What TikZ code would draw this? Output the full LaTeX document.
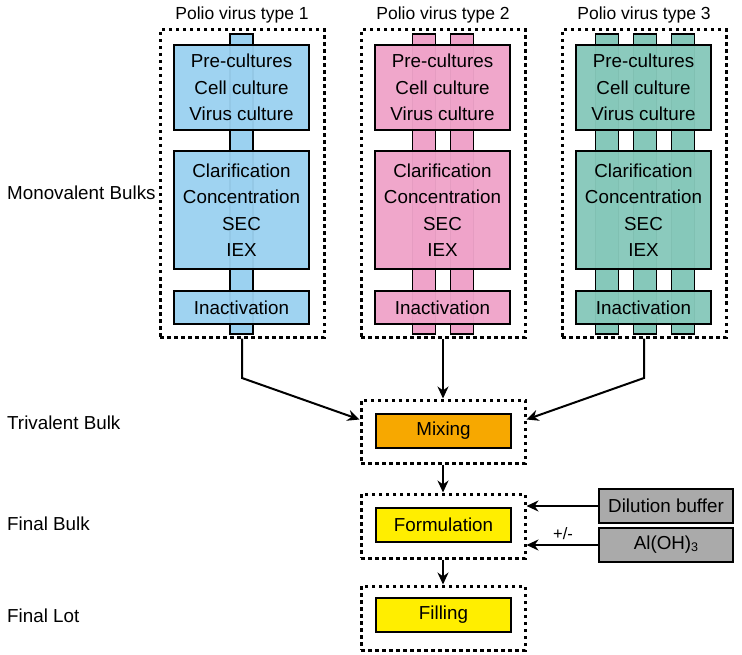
\documentclass[tikz,border=0pt]{standalone}
\usepackage{fontspec}
\setmainfont{Liberation Sans}
\usetikzlibrary{arrows.meta,calc}
\definecolor{cblue}{RGB}{155,209,240}
\definecolor{cpink}{RGB}{239,163,201}
\definecolor{cteal}{RGB}{134,200,186}
\definecolor{corange}{RGB}{247,168,0}
\definecolor{cyellow}{RGB}{255,238,0}
\definecolor{cgray}{RGB}{170,170,170}
\tikzset{
  dotbox/.style={draw, line width=3pt, dash pattern=on 3.5pt off 3.5pt, minimum width=164pt, inner sep=0pt},
  stagebox/.style={draw, line width=1.6pt, minimum width=135pt, inner sep=0pt, align=center, fill opacity=0.96, text opacity=1, font=\fontsize{18.8}{26.5}\selectfont},
  barbox/.style={draw, line width=1.6pt, minimum width=23pt, minimum height=300pt, inner sep=0pt},
  procbox/.style={draw, line width=1.6pt, minimum width=135pt, minimum height=34pt, inner sep=0pt, font=\fontsize{18.8}{22}\selectfont},
  sidebox/.style={draw, line width=1.6pt, fill=cgray, minimum width=134pt, minimum height=34pt, inner sep=0pt, font=\fontsize{18.8}{22}\selectfont},
  titlelab/.style={font=\fontsize{17.5}{20}\selectfont},
  rowlab/.style={anchor=west, inner sep=0pt, font=\fontsize{18.8}{22}\selectfont},
  arr/.style={line width=2pt, -{Stealth[length=12pt,width=11pt]}}
}
\begin{document}
\begin{tikzpicture}[x=1pt,y=-1pt]
\useasboundingbox (0,0) rectangle (742,655);
% titles
\node[titlelab] (t1) at (242,15) {Polio virus type 1};
\node[titlelab] (t2) at (443,15) {Polio virus type 2};
\node[titlelab] (t3) at (644,15) {Polio virus type 3};
% row labels
\node[rowlab] (l1) at (7,193) {Monovalent Bulks};
\node[rowlab] (l2) at (7,423) {Trivalent Bulk};
\node[rowlab] (l3) at (7,524) {Final Bulk};
\node[rowlab] (l4) at (7,616) {Final Lot};
% dotted containers
\node[dotbox, minimum height=307pt] (d1) at (242,183.5) {};
\node[dotbox, minimum height=307pt] (d2) at (443,183.5) {};
\node[dotbox, minimum height=307pt] (d3) at (644,183.5) {};
% bars
\node[barbox, fill=cblue] (b11) at (241.5,184) {};
\node[barbox, fill=cpink] (b21) at (424,184) {};
\node[barbox, fill=cpink] (b22) at (462,184) {};
\node[barbox, fill=cteal] (b31) at (607,184) {};
\node[barbox, fill=cteal] (b32) at (645,184) {};
\node[barbox, fill=cteal] (b33) at (683,184) {};
% type 1
\node[stagebox, fill=cblue, minimum height=85pt] (a1) at (241.5,87.5) {Pre-cultures\\Cell culture\\Virus culture};
\node[stagebox, fill=cblue, minimum height=118pt] (m1) at (241.5,210) {Clarification\\Concentration\\SEC\\IEX};
\node[stagebox, fill=cblue, minimum height=33pt] (i1) at (241.5,307.5) {Inactivation};
% type 2
\node[stagebox, fill=cpink, minimum height=85pt] (a2) at (442.5,87.5) {Pre-cultures\\Cell culture\\Virus culture};
\node[stagebox, fill=cpink, minimum height=118pt] (m2) at (442.5,210) {Clarification\\Concentration\\SEC\\IEX};
\node[stagebox, fill=cpink, minimum height=33pt] (i2) at (442.5,307.5) {Inactivation};
% type 3
\node[stagebox, fill=cteal, minimum height=85pt] (a3) at (643.5,87.5) {Pre-cultures\\Cell culture\\Virus culture};
\node[stagebox, fill=cteal, minimum height=118pt] (m3) at (643.5,210) {Clarification\\Concentration\\SEC\\IEX};
\node[stagebox, fill=cteal, minimum height=33pt] (i3) at (643.5,307.5) {Inactivation};
% lower stages
\node[dotbox, minimum height=63pt] (mixd) at (443,431.5) {};
\node[procbox, fill=corange] (mix) at (443.5,431) {Mixing};
\node[dotbox, minimum height=64pt] (formd) at (443,526) {};
\node[procbox, fill=cyellow] (form) at (443.5,525) {Formulation};
\node[dotbox, minimum height=64pt] (filld) at (443,618) {};
\node[procbox, fill=cyellow] (fill) at (443.5,615) {Filling};
\node[sidebox] (dil) at (666,506) {Dilution buffer};
\node[sidebox] (al) at (666,545) {Al(OH)\raisebox{-2pt}{\fontsize{12.5}{12.5}\selectfont 3}};
\node[font=\fontsize{16.5}{18}\selectfont] (pm) at (563,534) {+/-};
% connectors
\coordinate (c1) at (242,378);
\coordinate (c3) at (644,378);
\draw[arr] (d1.south) -- (c1) -- ([yshift=12pt]mixd.west);
\draw[arr] (d2.south) -- (mixd.north);
\draw[arr] (d3.south) -- (c3) -- ([yshift=12pt]mixd.east);
\draw[arr] (mixd.south) -- (formd.north);
\draw[arr] (formd.south) -- (filld.north);
\draw[arr] (dil.west) -- (dil.west -| formd.east);
\draw[arr] (al.west) -- (al.west -| formd.east);
\end{tikzpicture}
\end{document}
